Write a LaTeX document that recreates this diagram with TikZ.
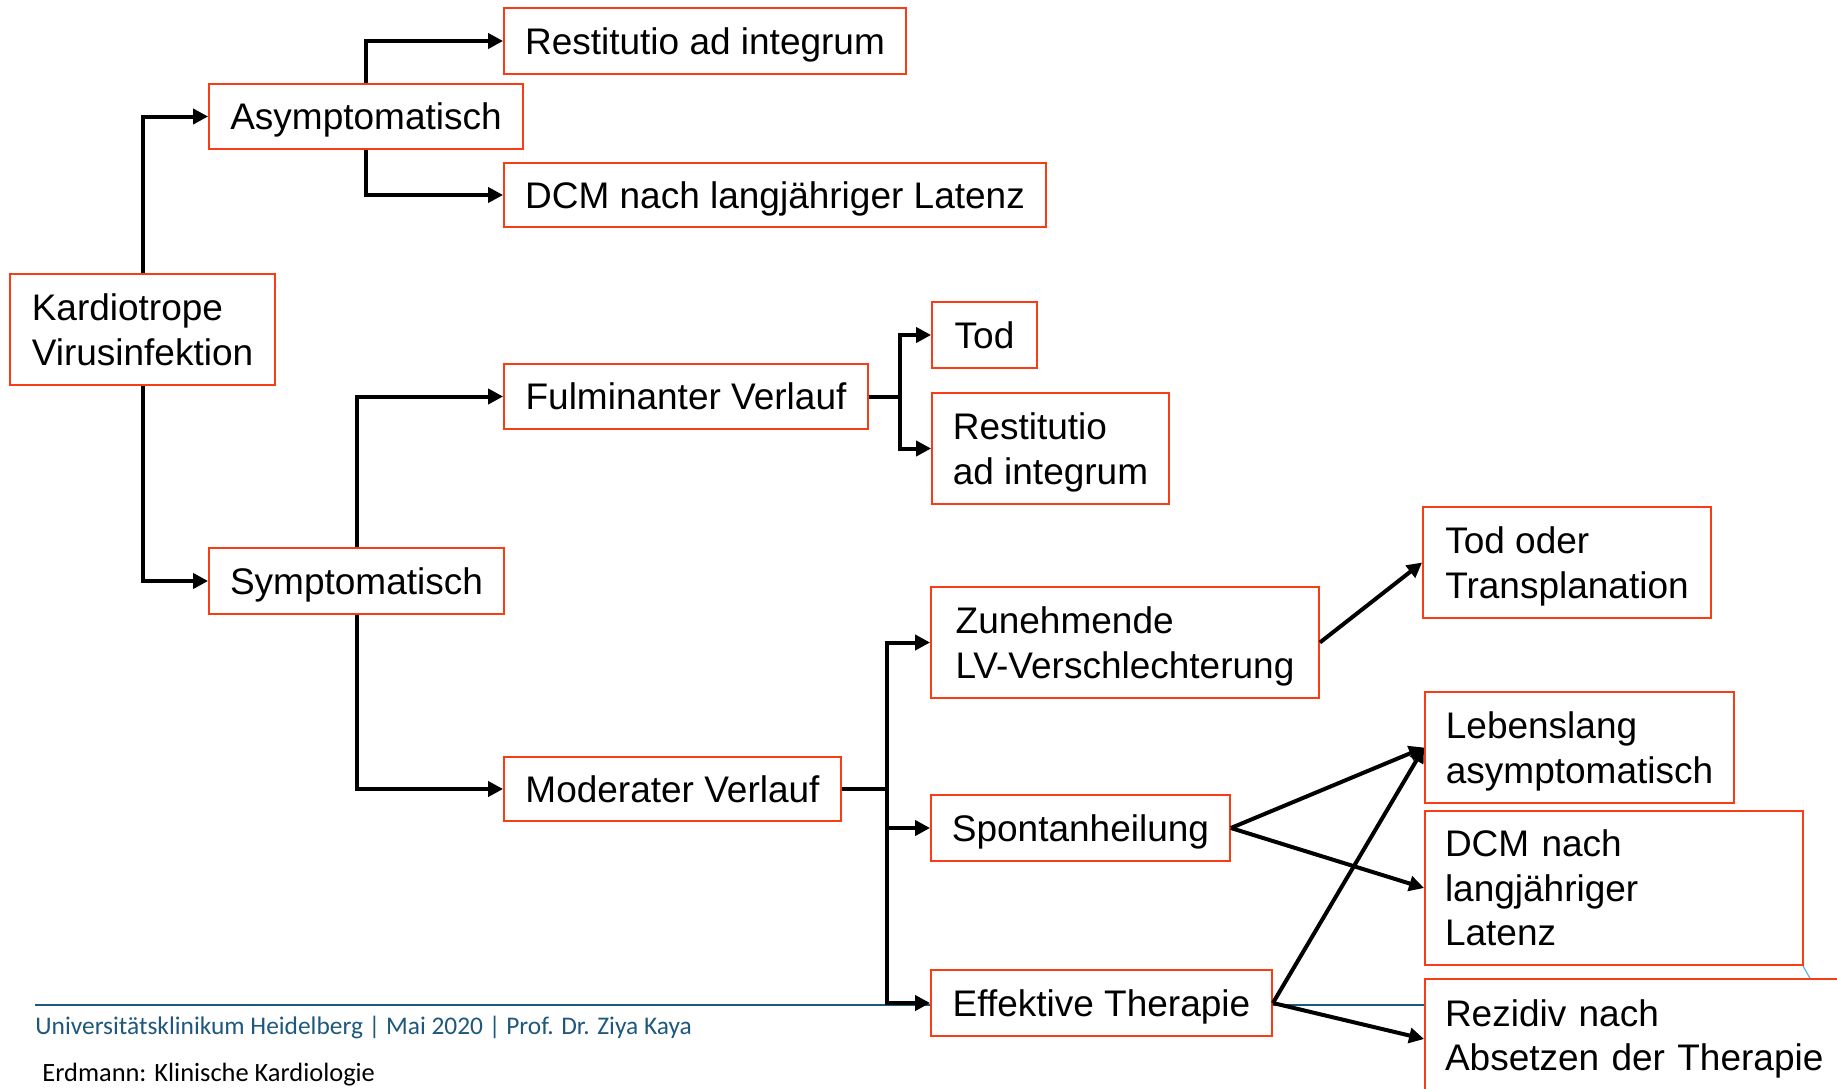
\documentclass[tikz,border=0pt]{standalone}
\usepackage{fontspec}
\setmainfont{Liberation Sans}
\newfontfamily\footfont{Carlito}
\usetikzlibrary{arrows.meta}
\definecolor{boxred}{RGB}{250,60,20}
\definecolor{footblue}{RGB}{30,88,125}
\definecolor{tickblue}{RGB}{90,180,230}
\begin{document}
\begin{tikzpicture}[x=0.5pt,y=-0.5pt,
  box/.style={draw=boxred,line width=0.9pt,fill=white,font=\fontsize{18.5}{22.25}\selectfont,align=left,inner sep=0pt,text depth=0pt},
  conn/.style={line width=2pt,-{Triangle[length=7.5pt,width=7.5pt]}},
  plain/.style={line width=2pt},
  foot/.style={anchor=west,inner sep=0pt}]
\useasboundingbox (0,0) rectangle (1837,1088);
\clip (0,0) rectangle (1837,1088);
\fill[white] (0,0) rectangle (1837,1088);
% footer rule
\draw[footblue,line width=1pt] (35,1005) -- (1500,1005);
\draw[tickblue,line width=0.6pt] (1803,966) -- (1811,980);
% boxes
\node[box,minimum width=201pt,minimum height=33pt] (r1) at (705,41) {Restitutio ad integrum};
\node[box,minimum width=157pt,minimum height=32.5pt] (asym) at (366,116.5) {Asymptomatisch};
\node[box,minimum width=271pt,minimum height=32pt] (dcm1) at (775,195) {DCM nach langjähriger Latenz};
\node[box,minimum width=132.5pt,minimum height=55.5pt] (kard) at (142.5,329.5) {Kardiotrope\\Virusinfektion};
\node[box,minimum width=182pt,minimum height=32.5pt] (ful) at (686,396.5) {Fulminanter Verlauf};
\node[box,minimum width=52.5pt,minimum height=33pt] (tod) at (984.5,335) {Tod};
\node[box,minimum width=118.5pt,minimum height=55.5pt] (r2) at (1050.5,448.5) {Restitutio\\ad integrum};
\node[box,minimum width=147.5pt,minimum height=33pt] (sym) at (356.5,581) {Symptomatisch};
\node[box,minimum width=144pt,minimum height=55.5pt] (todt) at (1567,562.5) {Tod oder\\Transplanation};
\node[box,minimum width=194pt,minimum height=55.5pt] (zun) at (1125,642.5) {Zunehmende\\LV-Verschlechterung};
\node[box,minimum width=154.5pt,minimum height=55.5pt] (leb) at (1579.5,747.5) {Lebenslang\\asymptomatisch};
\node[box,text depth=44.5pt,minimum width=189pt,minimum height=77pt,inner xsep=10pt,text width=169pt] (dcm2) at (1614,888) {DCM nach\\langjähriger\\Latenz};
\node[box,minimum width=168.5pt,minimum height=32pt] (mod) at (672.5,789) {Moderater Verlauf};
\node[box,minimum width=149.5pt,minimum height=33pt] (spont) at (1080.5,828) {Spontanheilung};
\node[box,minimum width=170.5pt,minimum height=33pt] (eff) at (1101.5,1003) {Effektive Therapie};
\node[box,text depth={},minimum width=217.5pt,minimum height=60pt,inner xsep=10pt,text width=197.5pt] (rez) at (1642.5,1039) {Rezidiv nach\\Absetzen der Therapie};
% connectors
\draw[conn] (kard.north) |- (asym.west);
\draw[conn] (kard.south) |- (sym.west);
\draw[conn] (asym.north) |- (r1.west);
\draw[conn] (asym.south) |- (dcm1.west);
\draw[conn] (sym.north) |- (ful.west);
\draw[conn] (sym.south) |- (mod.west);
\coordinate (fj) at (900,396.5);
\draw[plain] (ful.east) -- (fj);
\draw[conn] (fj) |- (tod.west);
\draw[conn] (fj) |- (r2.west);
\coordinate (mj) at (887,789);
\draw[plain] (mod.east) -- (mj);
\draw[conn] (mj) |- (zun.west);
\draw[conn] (mj) |- (spont.west);
\draw[conn] (mj) |- (eff.west);
\draw[conn] (zun.east) -- (todt.west);
\draw[conn] (spont.east) -- (leb.west);
\draw[conn] (spont.east) -- (dcm2.west);
\draw[conn] (eff.east) -- (leb.west);
\draw[conn] (eff.east) -- (rez.west);
% footer
\node[foot,text=footblue,font=\footfont\fontsize{12.7}{15}\selectfont] (footline) at (35,1027) {Universitätsklinikum Heidelberg | Mai 2020 | Prof. Dr. Ziya Kaya};
\node[foot,text=black,font=\footfont\fontsize{13.2}{15}\selectfont] (source) at (42,1075) {Erdmann: Klinische Kardiologie};
\end{tikzpicture}
\end{document}
